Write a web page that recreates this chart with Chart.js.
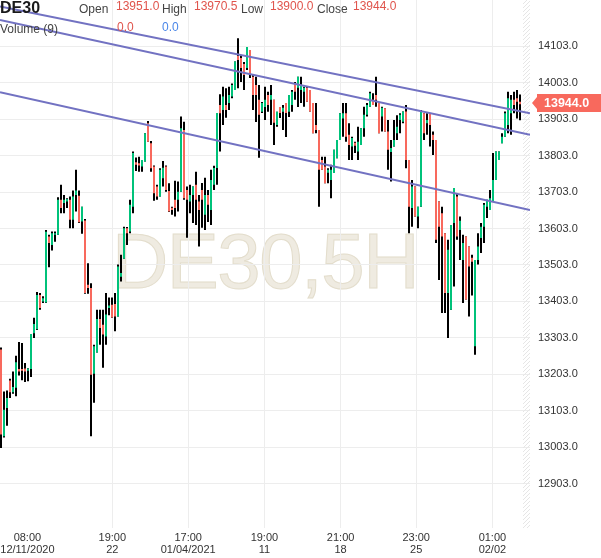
<!DOCTYPE html>
<html><head><meta charset="utf-8">
<script src="https://cdn.jsdelivr.net/npm/chart.js@4/dist/chart.umd.min.js"></script>
<style>
html,body{margin:0;padding:0;background:#fff;width:601px;height:558px;overflow:hidden;}
#wrap{position:relative;width:601px;height:558px;font-family:"Liberation Sans",Arial,sans-serif;}
#wm{position:absolute;left:112px;top:222px;font-size:78px;line-height:78px;letter-spacing:-1.5px;color:#efebe1;-webkit-text-stroke:1px #e3ddcc;white-space:nowrap;z-index:0;}
#c{position:absolute;left:0;top:0;z-index:1;}
.hd{position:absolute;z-index:2;white-space:nowrap;font-size:12px;line-height:12px;}
.lab{color:#444;}
.val{color:#e0544c;}
</style></head>
<body><div id="wrap">
<div id="wm">DE30,5H</div>
<canvas id="c" width="601" height="558"></canvas>
<div class="hd" style="left:0;top:0;font-size:16px;line-height:16px;font-weight:bold;color:#1a1a1a">DE30</div>
<div class="hd lab" style="left:79px;top:3px">Open</div>
<div class="hd val" id="vO" style="left:116px;top:0"></div>
<div class="hd lab" style="left:162px;top:3px">High</div>
<div class="hd val" id="vH" style="left:194px;top:0"></div>
<div class="hd lab" style="left:241px;top:3px">Low</div>
<div class="hd val" id="vL" style="left:270px;top:0"></div>
<div class="hd lab" style="left:317px;top:3px">Close</div>
<div class="hd val" id="vC" style="left:353px;top:0"></div>
<div class="hd lab" style="left:0;top:23px">Volume (9)</div>
<div class="hd val" id="vV1" style="left:117px;top:21px"></div>
<div class="hd" id="vV2" style="left:162px;top:21px;color:#4a86e8"></div>
</div>
<script>
// ---- data (5H candles, DE30) ----
const opens = [13271,13033,13111,13186,13154,13166,13218,13218,13219,13213,13218,13316,13327,13421,13403,13400,13581,13558,13586,13586,
13682,13673,13677,13682,13627,13695,13693,13622,13625,13449,13440,13205,13263,13355,13339,13307,13385,13394,13396,13362,
13471,13520,13604,13595,13663,13785,13782,13773,13787,13892,13837,13773,13718,13691,13741,13773,13706,13660,13682,13682,
13704,13873,13709,13677,13695,13723,13677,13709,13641,13695,13654,13723,13769,13942,13928,13942,13947,13965,13983,14076,
14071,14054,14043,14093,14019,13997,13956,13923,13936,13969,13956,13956,13887,13936,13923,13947,13923,13942,14002,13989,
13983,13978,13989,13983,13947,13887,13873,13791,13773,13756,13736,13755,13796,13846,13905,13919,13860,13828,13838,13814,
13832,13878,13915,13937,13956,13969,13947,13910,13933,13869,13813,13828,13864,13901,13896,13924,13791,13659,13718,13636,
13663,13919,13892,13919,13860,13846,13677,13645,13590,13426,13380,13618,13691,13599,13517,13581,13554,13523,13280,13517,
13577,13608,13663,13654,13677,13736,13791,13837,13855,13887,13919,13956,13960,13951];
const highs = [13277,13156,13159,13191,13211,13254,13292,13289,13234,13220,13314,13358,13429,13426,13417,13599,13586,13595,13595,13689,
13723,13695,13686,13691,13707,13764,13707,13663,13629,13508,13453,13284,13380,13380,13380,13426,13414,13414,13426,13504,
13531,13608,13607,13682,13814,13798,13800,13791,13864,13898,13843,13776,13723,13768,13788,13776,13727,13663,13734,13732,
13910,13896,13718,13723,13718,13759,13695,13728,13742,13709,13764,13775,13920,13971,13992,13988,13992,14001,14061,14125,
14079,14060,14101,14093,14024,14019,13997,13950,13992,13978,13997,13956,13923,13936,13942,13947,13969,13983,14005,14019,
14019,13992,13992,13983,13947,13947,13873,13800,13800,13768,13778,13819,13846,13919,13947,13947,13892,13855,13841,13882,
13878,13937,13947,13978,13974,14019,13947,13937,13933,13901,13846,13901,13914,13919,13924,13942,13791,13736,13718,13663,
13928,13919,13919,13919,13869,13846,13677,13663,13590,13572,13613,13714,13700,13636,13586,13581,13554,13531,13517,13590,
13618,13673,13682,13709,13810,13814,13814,13864,13924,13978,13969,13978,13983,13970.5];
const lows = [13001,13030,13062,13138,13150,13143,13200,13187,13182,13184,13196,13303,13325,13380,13399,13399,13497,13543,13567,13586,
13645,13645,13659,13604,13604,13650,13618,13589,13424,13424,13033,13125,13263,13284,13221,13284,13365,13358,13321,13362,
13458,13520,13558,13590,13645,13761,13759,13759,13787,13841,13759,13679,13682,13691,13718,13704,13648,13641,13636,13650,
13704,13682,13578,13645,13618,13613,13554,13605,13599,13621,13613,13709,13723,13814,13887,13907,13928,13960,13983,13988,
14005,13983,14038,14016,13928,13895,13797,13920,13901,13923,13887,13832,13882,13906,13873,13854,13909,13923,13956,13936,
13947,13937,13951,13924,13864,13864,13663,13764,13727,13727,13686,13755,13796,13846,13855,13841,13791,13791,13810,13791,
13832,13855,13910,13937,13942,13937,13864,13869,13869,13764,13732,13828,13846,13864,13892,13768,13590,13608,13636,13604,
13663,13846,13860,13828,13805,13563,13462,13371,13371,13303,13380,13444,13572,13517,13399,13408,13362,13419,13257,13504,
13536,13563,13632,13654,13677,13736,13791,13837,13855,13864,13860,13919,13905,13900];
const closes = [13038,13106,13138,13154,13168,13236,13211,13213,13211,13219,13314,13341,13421,13385,13412,13594,13563,13590,13590,13682,
13659,13682,13684,13627,13691,13707,13620,13663,13426,13440,13202,13280,13355,13330,13312,13367,13392,13359,13362,13499,
13481,13604,13590,13668,13810,13778,13776,13791,13864,13841,13768,13700,13691,13764,13770,13709,13650,13654,13659,13704,
13878,13686,13682,13695,13718,13682,13654,13682,13695,13668,13736,13769,13920,13919,13965,13928,13969,13997,14061,14065,
14043,14024,14101,14024,13969,13969,13915,13947,13956,13942,13969,13893,13923,13920,13934,13920,13969,13978,13978,14019,
13997,13989,13951,13924,13864,13873,13764,13764,13727,13764,13764,13819,13846,13919,13919,13855,13832,13851,13830,13841,
13878,13915,13942,13974,13942,13956,13864,13934,13869,13819,13824,13846,13882,13915,13924,13791,13663,13718,13636,13663,
13924,13864,13901,13887,13846,13572,13608,13581,13426,13545,13613,13714,13581,13624,13563,13408,13499,13512,13517,13554,
13608,13668,13682,13686,13736,13814,13814,13855,13919,13960,13956,13942,13951,13944];
const volumeValues = [0.0, 0.0];

// trend channel lines: endpoints in candle-index units and price
const trendX = [-1/3, 176 + 1/3];
const trendUpper = [14212, 13919];
const trendMiddle = [14175, 13860];
const trendLower = [13977, 13654];

// axis ticks
const priceTicks = [12903,13003,13103,13203,13303,13403,13503,13603,13703,13803,13903,14003,14103];
const timeTickIndex = [8.8, 37.1, 62.4, 87.8, 113.2, 138.4, 163.8];
const timeTickTop = ['08:00','19:00','17:00','19:00','21:00','23:00','01:00'];
const timeTickBottom = ['12/11/2020','22','01/04/2021','11','18','25','02/02'];

// ---- header ----
const last = closes.length - 1;
document.getElementById('vO').textContent = opens[last].toFixed(1);
document.getElementById('vH').textContent = highs[last].toFixed(1);
document.getElementById('vL').textContent = lows[last].toFixed(1);
document.getElementById('vC').textContent = closes[last].toFixed(1);
document.getElementById('vV1').textContent = volumeValues[0].toFixed(1);
document.getElementById('vV2').textContent = volumeValues[1].toFixed(1);

const GREEN = '#00c27a', RED = '#f8695d', LINE = '#7272c2', GRID = '#ededed';
const FONT = '"Liberation Sans", Arial, sans-serif';

const wickData = highs.map((h, i) => ({x: i, y: [lows[i], h]}));
const bodyData = opens.map((o, i) => ({x: i, y: [o, closes[i]]}));
const bodyColors = opens.map((o, i) => closes[i] >= o ? GREEN : RED);
const mkLine = arr => trendX.map((x, k) => ({x: x, y: arr[k]}));

const extras = {
  id: 'extras',
  beforeDatasetsDraw(chart) {
    const {ctx, chartArea: a} = chart;
    ctx.save();
    ctx.beginPath();
    ctx.rect(a.right - 7, a.top, 7, a.bottom - a.top);
    ctx.clip();
    ctx.strokeStyle = '#e6e6e6';
    ctx.lineWidth = 1;
    const H = a.bottom - a.top;
    for (let k = -H; k < 10; k += 4) {
      ctx.beginPath();
      ctx.moveTo(a.right - 7 + k, a.bottom);
      ctx.lineTo(a.right - 7 + k + H, a.top);
      ctx.stroke();
    }
    ctx.restore();
  },
  afterDraw(chart) {
    const {ctx, chartArea: a} = chart;
    const y = Math.round(chart.scales.y.getPixelForValue(closes[last])) - 1;
    ctx.save();
    ctx.fillStyle = RED;
    ctx.beginPath();
    ctx.moveTo(a.right + 2, y);
    ctx.lineTo(a.right + 7, y - 6);
    ctx.lineTo(a.right + 7, y - 9);
    ctx.lineTo(601, y - 9);
    ctx.lineTo(601, y + 9);
    ctx.lineTo(a.right + 7, y + 9);
    ctx.lineTo(a.right + 7, y + 6);
    ctx.closePath();
    ctx.fill();
    ctx.fillStyle = '#fff';
    ctx.font = 'bold 12.5px ' + FONT;
    ctx.textBaseline = 'middle';
    ctx.textAlign = 'left';
    ctx.fillText(closes[last].toFixed(1), a.right + 14, y + 1);
    ctx.restore();
  }
};

new Chart(document.getElementById('c'), {
  type: 'bar',
  data: {
    datasets: [
      {type: 'line', data: mkLine(trendUpper), borderColor: LINE, borderWidth: 2, pointRadius: 0, order: 0},
      {type: 'line', data: mkLine(trendMiddle), borderColor: LINE, borderWidth: 2, pointRadius: 0, order: 0},
      {type: 'line', data: mkLine(trendLower), borderColor: LINE, borderWidth: 2, pointRadius: 0, order: 0},
      {type: 'bar', data: bodyData, backgroundColor: bodyColors, barThickness: 2, grouped: false, borderWidth: 0, inflateAmount: 0, order: 1},
      {type: 'bar', data: wickData, backgroundColor: '#000', barThickness: 2, grouped: false, borderWidth: 0, inflateAmount: 0, order: 2}
    ]
  },
  options: {
    responsive: false,
    animation: false,
    devicePixelRatio: 1,
    layout: {padding: 0},
    plugins: {legend: {display: false}, tooltip: {enabled: false}, title: {display: false}},
    scales: {
      x: {
        type: 'linear', bounds: 'data', min: -1/3, max: 176 + 1/3, offset: false,
        grid: {color: c => c.index === 0 ? 'rgba(0,0,0,0)' : GRID, drawTicks: false, offset: false},
        border: {display: false},
        ticks: {autoSkip: false, maxRotation: 0, padding: 4, color: '#333',
          font: {size: 11, family: FONT, lineHeight: 1.1},
          callback: (v, i) => [timeTickTop[i], timeTickBottom[i]]},
        afterBuildTicks: s => { s.ticks = timeTickIndex.map(v => ({value: v})); },
        afterFit: s => { s.height = 30; s.paddingLeft = 0; s.paddingRight = 0; }
      },
      y: {
        type: 'linear', position: 'right', min: 12781.6, max: 14229.8,
        grid: {color: GRID, drawTicks: false},
        border: {display: false},
        ticks: {padding: 8, color: '#333', font: {size: 11, family: FONT},
          callback: v => Number(v).toFixed(1)},
        afterBuildTicks: s => { s.ticks = priceTicks.map(v => ({value: v})); },
        afterFit: s => { s.width = 71; s.paddingTop = 0; s.paddingBottom = 0; }
      }
    }
  },
  plugins: [extras]
});
</script>
</body></html>
